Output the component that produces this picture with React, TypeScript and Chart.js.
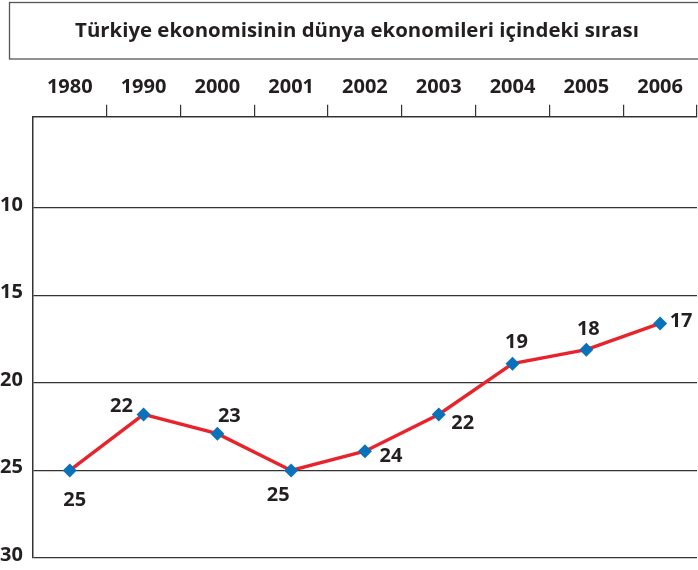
import React, { useEffect, useRef } from "react";
import { Chart, registerables } from "chart.js";

Chart.register(...registerables);

const chartTitle = "Türkiye ekonomisinin dünya ekonomileri içindeki sırası";
const years = ["1980", "1990", "2000", "2001", "2002", "2003", "2004", "2005", "2006"];
// positions of the markers as drawn in the picture
const rankPlotted = [25, 21.8, 22.9, 25, 23.9, 21.8, 18.9, 18.1, 16.6];
// the labels printed next to the markers
const rankLabels = ["25", "22", "23", "25", "24", "22", "19", "18", "17"];
const yTickValues = [10, 15, 20, 25, 30];
const yMin = 4.8;
const yMax = 30;

// label placement (style): offset of each label's cap centre from its marker
const labelOffsets: [number, number][] = [
  [5, 28], [-22, -10], [12, -19], [-13, 23], [26, 3], [24, 7], [4, -23], [2, -22], [21, -4],
];

const FAMILY = "'Open Sans', 'DejaVu Sans', sans-serif";
const TEXT = "#231f20";
const AXIS = "#333333";
const RED = "#e8232b";
const BLUE = "#0a72bb";

const decorPlugin = {
  id: "decor",
  beforeDraw(chart: any) {
    const ctx = chart.ctx;
    ctx.save();
    ctx.strokeStyle = "#555555";
    ctx.lineWidth = 1.3;
    ctx.strokeRect(9.5, 2.5, 720, 56.5);
    ctx.font = `bold 20.4px ${FAMILY}`;
    ctx.fillStyle = TEXT;
    ctx.textAlign = "center";
    ctx.textBaseline = "alphabetic";
    ctx.fillText(chartTitle, 357, 37);
    ctx.restore();
  },
  afterDatasetsDraw(chart: any) {
    const ctx = chart.ctx;
    const meta = chart.getDatasetMeta(0);
    ctx.save();
    ctx.font = `bold 20px ${FAMILY}`;
    ctx.fillStyle = TEXT;
    ctx.textAlign = "center";
    ctx.textBaseline = "alphabetic";
    meta.data.forEach((pt: any, i: number) => {
      const [dx, dy] = labelOffsets[i];
      ctx.fillText(rankLabels[i], pt.x + dx, pt.y + dy + 7.5);
    });
    ctx.restore();
  },
};

export default function App() {
  const ref = useRef<HTMLCanvasElement>(null);
  useEffect(() => {
    if (!ref.current) return;
    const chart = new Chart(ref.current, {
      type: "line",
      data: {
        labels: years,
        datasets: [
          {
            data: rankPlotted,
            borderColor: RED,
            borderWidth: 3.4,
            pointStyle: "rectRot",
            pointRadius: 7,
            pointBackgroundColor: BLUE,
            pointBorderWidth: 0,
            tension: 0,
            fill: false,
            clip: false,
          },
        ],
      },
      options: {
        responsive: false,
        animation: false,
        layout: { autoPadding: false, padding: { top: 68.8, right: 1, bottom: 0, left: 0 } },
        plugins: {
          legend: { display: false },
          tooltip: { enabled: false },
          title: { display: false },
        },
        scales: {
          x: {
            type: "category",
            position: "top",
            offset: true,
            grid: {
              offset: true,
              drawOnChartArea: false,
              drawTicks: true,
              tickLength: 12,
              lineWidth: 1.2,
              color: (c: any) => (c.index === 0 ? "rgba(0,0,0,0)" : AXIS),
            },
            border: { display: true, color: AXIS, width: 1.5 },
            ticks: {
              font: { family: FAMILY, size: 20, weight: "bold" },
              color: TEXT,
              padding: 6,
              maxRotation: 0,
              autoSkip: false,
            },
          },
          y: {
            type: "linear",
            reverse: true,
            min: yMin,
            max: yMax,
            afterBuildTicks: (s: any) => {
              s.ticks = yTickValues.map((v) => ({ value: v }));
            },
            grid: { drawTicks: false, color: AXIS, lineWidth: 1.2 },
            border: { display: true, color: AXIS, width: 1.5 },
            ticks: {
              font: { family: FAMILY, size: 20, weight: "bold", lineHeight: 0.7 },
              color: TEXT,
              padding: 5,
              crossAlign: "far",
              labelOffset: -3,
            },
          },
        },
      },
      plugins: [decorPlugin],
    });
    return () => chart.destroy();
  }, []);
  return (
    <div style={{ position: "absolute", left: 0, top: 0, width: 698, height: 570 }}>
      <canvas ref={ref} width={698} height={570} style={{ display: "block" }} />
    </div>
  );
}
